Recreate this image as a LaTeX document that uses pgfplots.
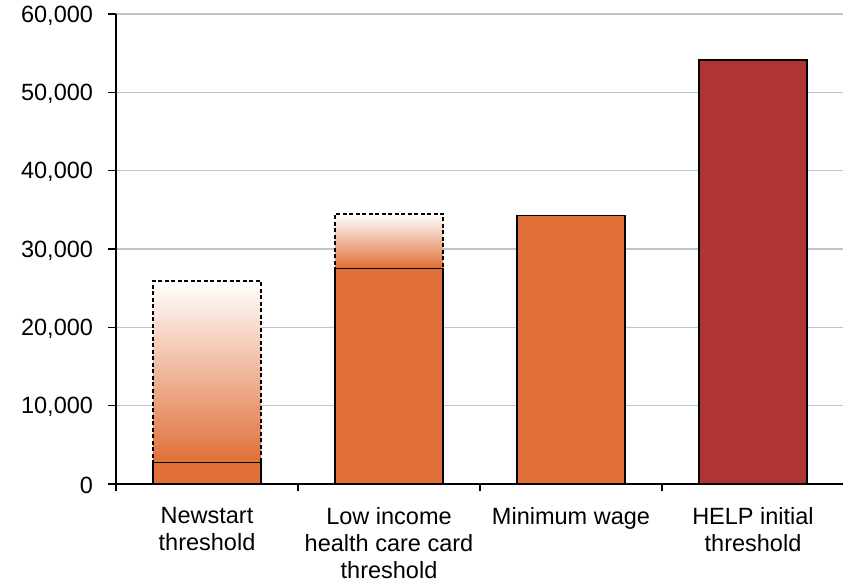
\documentclass[border=0pt]{standalone}
\usepackage{fontspec}
\setmainfont{Liberation Sans}
\usepackage{pgfplots}
\pgfplotsset{compat=1.18}
\definecolor{barorange}{RGB}{224,111,56}
\definecolor{barred}{RGB}{176,52,51}
\definecolor{gridgray}{RGB}{190,195,200}
% gradient fills: solid orange up to the solid bar top, then fading to white
% (path spans 25bp..75bp of the shading)
\pgfdeclareverticalshading{fadeA}{100bp}{color(0bp)=(barorange); color(30.2bp)=(barorange); color(75bp)=(white); color(100bp)=(white)}
\pgfdeclareverticalshading{fadeB}{100bp}{color(0bp)=(barorange); color(64.95bp)=(barorange); color(75bp)=(white); color(100bp)=(white)}
\begin{document}
\begin{tikzpicture}
\begin{axis}[
  at={(0,0)}, anchor=south west,
  scale only axis, width=728pt, height=470pt,
  xmin=-0.5, xmax=3.5, ymin=0, ymax=60000,
  ybar, bar width=108pt,
  axis x line*=bottom, axis y line*=left,
  axis line style={black, line width=1.3pt},
  ytick={0,10000,20000,30000,40000,50000,60000},
  scaled y ticks=false,
  /pgf/number format/fixed,
  /pgf/number format/1000 sep={,},
  /pgf/number format/assume math mode=true,
  ymajorgrids,
  grid style={gridgray, line width=1.4pt},
  tick align=outside,
  major tick length=7.5pt,
  minor tick length=7.5pt,
  tick style={black, line width=1.3pt},
  xtick={0,1,2,3},
  xticklabels={Newstart\\threshold, Low income\\health care card\\threshold, Minimum wage, HELP initial\\threshold},
  major x tick style={draw=none},
  minor xtick={-0.5,0.5,1.5,2.5,3.5},
  tick label style={font=\fontsize{23.5}{27}\selectfont},
  xticklabel style={align=center, anchor=north, inner sep=0pt, yshift=-15.5pt},
  yticklabel style={anchor=east, xshift=-12pt, yshift=-1.5pt},
]
% dashed gradient ranges (drawn from 0; the solid part is covered by the solid bars)
\addplot[bar shift=0pt, draw=black, line width=1.3pt, dash pattern=on 4pt off 2.5pt, shading=fadeA] coordinates {(0,25900)};
\addplot[bar shift=0pt, draw=black, line width=1.3pt, dash pattern=on 4pt off 2.5pt, shading=fadeB] coordinates {(1,34480)};
% solid bars
\addplot[bar shift=0pt, fill=barorange, draw=black, line width=1.3pt] coordinates {(0,2700) (1,27550) (2,34260)};
\addplot[bar shift=0pt, fill=barred, draw=black, line width=1.3pt] coordinates {(3,54120)};
\end{axis}
\pgfresetboundingbox
\useasboundingbox (-116pt,-98.7pt) rectangle (727pt,484pt);
\end{tikzpicture}
\end{document}
